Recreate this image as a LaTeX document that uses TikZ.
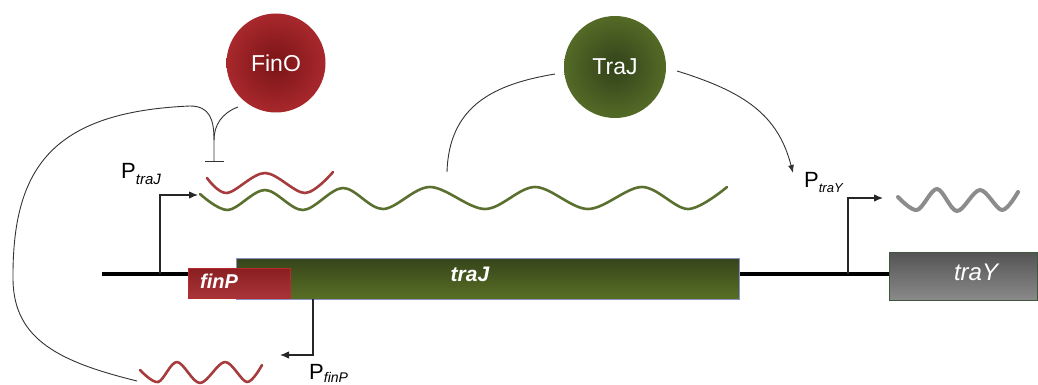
\documentclass[tikz,border=0pt]{standalone}
\usepackage{fontspec}
\setmainfont{Liberation Sans}
\usetikzlibrary{arrows.meta,shadings}
\definecolor{rnared}{HTML}{A63C3E}
\definecolor{rnagreen}{HTML}{5B6F2F}
\definecolor{rnagray}{HTML}{8C8C8C}
\definecolor{finoin}{HTML}{7A1416}
\definecolor{finoout}{HTML}{A8282C}
\definecolor{trajin}{HTML}{32421A}
\definecolor{trajout}{HTML}{546A26}
\definecolor{finptop}{HTML}{8A1E21}
\definecolor{finpbot}{HTML}{A83539}
\definecolor{trajtop}{HTML}{36451A}
\definecolor{trajbot}{HTML}{586F25}
\definecolor{trajborder}{HTML}{8A8FC8}
\definecolor{trayTop}{HTML}{545454}
\definecolor{trayBot}{HTML}{8A8A8A}
\definecolor{trayborder}{HTML}{3F573F}
\begin{document}
\begin{tikzpicture}[x=1pt,y=-1pt,
  conn/.style={draw=black!80, line width=0.9pt},
  prom/.style={draw=black!85, line width=1.2pt, -{Latex[length=9pt,width=7.5pt]}},
  rna/.style={line width=2.6pt, line cap=round, line join=round},
  protein/.style={circle, inner sep=0pt, minimum size=99pt, text=white,
    font=\fontsize{23}{23}\selectfont},
  genebox/.style={rectangle, inner sep=0pt, line width=0.7pt},
  genetxt/.style={text=white, inner sep=0pt},
  plabel/.style={anchor=base west, inner sep=0pt, font=\fontsize{22}{22}\selectfont}
]
\useasboundingbox (0,0) rectangle (1038,385);

% proteins
\node[protein, inner color=finoin, outer color=finoout] (FinO) at (276,63) {FinO};
\node[protein, inner color=trajin, outer color=trajout, minimum size=102pt] (TraJ) at (615,67) {TraJ};

% DNA and genes
\coordinate (dnaL) at (102,274);
\node[genebox, draw=trayborder, top color=trayTop, bottom color=trayBot,
  minimum width=148pt, minimum height=48pt] (traYbox) at (963,276) {};
\draw[line width=3.5pt] (dnaL) -- (traYbox.west |- dnaL);
\node[genebox, draw=trajborder, top color=trajtop, bottom color=trajbot,
  minimum width=503pt, minimum height=41pt] (traJbox) at (487.5,278.5) {};
\node[genebox, draw=finpbot!80!red, top color=finptop, bottom color=finpbot,
  minimum width=102pt, minimum height=30pt] (finPbox) at (239,283) {};
\node[genetxt, font=\fontsize{20}{20}\selectfont\bfseries\itshape] (finPtxt) at (219,281) {finP};
\node[genetxt, font=\fontsize{21}{21}\selectfont\bfseries\itshape] (traJtxt) at (470,274) {traJ};
\node[genetxt, font=\fontsize{24}{24}\selectfont\itshape] (traYtxt) at (976,272) {traY};

% promoters
\coordinate (pjbase) at (160,274);
\coordinate (pjtip) at (198,195);
\draw[prom] (pjbase) |- (pjtip);
\coordinate (pybase) at (848,274);
\coordinate (pytip) at (883,198);
\draw[prom] (pybase) |- (pytip);
\coordinate (pfbase) at (313,299);
\coordinate (pftip) at (280,355);
\draw[prom] (pfbase) |- (pftip);

\node[plabel] (PtraJ) at (121,178) {P\raisebox{-6pt}{\fontsize{15}{15}\selectfont\itshape traJ}};
\node[plabel] (PtraY) at (804,187) {P\raisebox{-5pt}{\fontsize{13}{13}\selectfont\itshape traY}};
\node[plabel] (PfinP) at (309,379) {P\raisebox{-3.5pt}{\fontsize{14}{14}\selectfont\itshape finP}};

% RNAs
\draw[rna, rnagreen] plot[smooth, tension=0.55] coordinates {(200,194) (228,210) (265,190) (303,210) (343,188) (383,209) (430,187) (485,209) (535,187) (588,209) (642,187) (688,209) (727,187)};
\draw[rna, rnared] plot[smooth, tension=0.55] coordinates {(207,178) (227,193) (265,173) (305,193) (333,172)};
\draw[rna, rnared] plot[smooth, tension=0.55] coordinates {(140,370) (158,382) (177,362) (200,383) (225,362) (247,382) (262,365)};
\draw[rna, rnagray, line width=4pt] plot[smooth, tension=0.55] coordinates {(898,197) (917,210) (937,189) (957,211) (980,190) (1002,210) (1018,192)};

% regulation connectors
\coordinate (loopstart) at (137,381);
\coordinate (junc) at (214,140);
\coordinate (tbar) at (214,162);
\coordinate (finoend) at (238,107);
\draw[conn, -{Bar[width=19pt]}] (loopstart) .. controls (60,362) and (14,340) .. (13,280)
  .. controls (12,170) and (50,112) .. (190,106)
  .. controls (210,106) and (214,120) .. (junc) -- (tbar);
\draw[conn] (finoend) .. controls (222,113) and (214,125) .. (junc);

\coordinate (wavetop) at (447,172);
\coordinate (trajleft) at (555,74);
\draw[conn] (wavetop) .. controls (449,105) and (495,84) .. (trajleft);
\coordinate (trajright) at (677,71);
\coordinate (pytarget) at (793,173);
\draw[conn, -{Latex[length=8pt,width=6pt]}] (trajright) .. controls (745,92) and (778,115) .. (pytarget);
\end{tikzpicture}
\end{document}
